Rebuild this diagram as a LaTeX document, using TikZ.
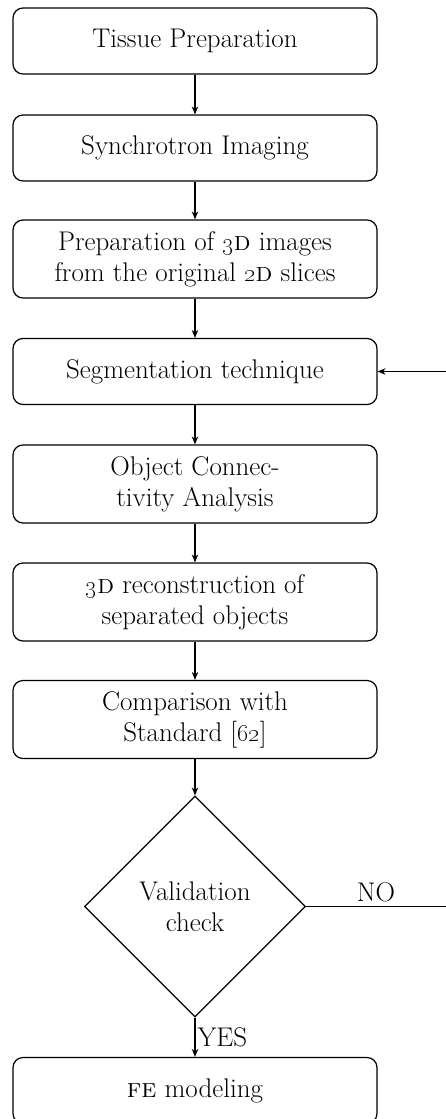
\documentclass[tikz,border=0pt]{standalone}
\usetikzlibrary{shapes.geometric,arrows.meta}
\begin{document}
\begin{tikzpicture}[x=1pt,y=-1pt,
  every node/.style={font=\fontsize{27}{31}\selectfont},
  box/.style={draw,line width=1.2pt,rounded corners=10pt,minimum width=364pt,minimum height=66pt,align=center,inner sep=0pt},
  tallbox/.style={box,minimum height=78pt},
  dec/.style={draw,line width=1.2pt,shape=diamond,minimum width=221pt,minimum height=221pt,inner sep=0pt,align=center},
  conn/.style={line width=1.2pt,-{Stealth[length=8pt,width=6.5pt]}},
  plain/.style={line width=1.2pt}]
\useasboundingbox (0,0) rectangle (446,1119);
\node[box] (b1) at (195,41) {Tissue Preparation};
\node[box] (b2) at (195,148) {Synchrotron Imaging};
\node[tallbox] (b3) at (195,259) {Preparation of \oldstylenums{3}\textsc{d} images\\from the original \oldstylenums{2}\textsc{d} slices};
\node[box] (b4) at (195,371.5) {Segmentation technique};
\node[tallbox] (b5) at (195,484) {Object Connec-\\tivity Analysis};
\node[tallbox] (b6) at (195,602) {\oldstylenums{3}\textsc{d} reconstruction of\\separated objects};
\node[tallbox] (b7) at (195,719.5) {Comparison with\\Standard [\oldstylenums{62}]};
\node[dec] (d) at (195,906.5) {Validation\\check};
\node[box] (b8) at (195,1090.5) {\textsc{fe} modeling};
\coordinate (r1) at (446,906.5);
\coordinate (r2) at (446,371.5);
\draw[conn] (b1) -- (b2);
\draw[conn] (b2) -- (b3);
\draw[conn] (b3) -- (b4);
\draw[conn] (b4) -- (b5);
\draw[conn] (b5) -- (b6);
\draw[conn] (b6) -- (b7);
\draw[conn] (b7) -- (d);
\draw[conn] (d) -- (b8) node[midway,right,inner sep=2pt] {YES};
\draw[plain] (d.east) -- (r1) node[midway,above,inner sep=4pt] {NO};
\draw[conn] (r2) -- (b4.east);
\end{tikzpicture}
\end{document}
